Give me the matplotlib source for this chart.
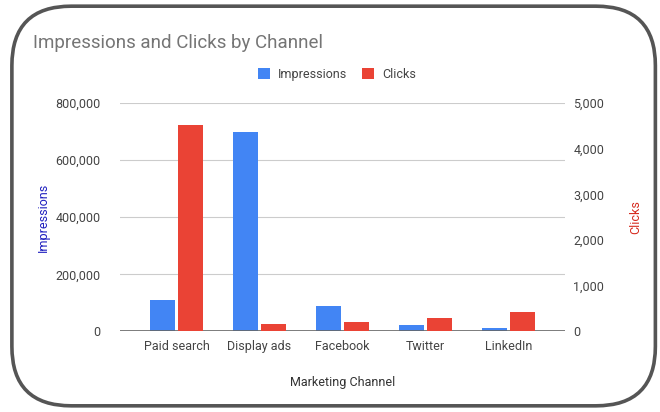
import numpy as np
import matplotlib.pyplot as plt
from matplotlib.patches import FancyBboxPatch
from matplotlib.ticker import FuncFormatter

plt.rcParams['font.family'] = ['Roboto', 'DejaVu Sans']

channels = ['Paid search', 'Display ads', 'Facebook', 'Twitter', 'LinkedIn']
impressions = [110000, 700000, 88000, 24000, 12000]
clicks = [4520, 170, 214, 288, 426]

BLUE = '#4285F4'
RED = '#EA4335'

fig = plt.figure(figsize=(6.6, 4.12), dpi=100)

# rounded frame around the whole chart (behind the axes)
frame = FancyBboxPatch((0.018, 0.015), 0.975, 0.97,
                       boxstyle='round,pad=0,rounding_size=0.09',
                       transform=fig.transFigure, facecolor='white',
                       edgecolor='#555555', linewidth=2.6,
                       mutation_aspect=660/412, zorder=-1)
fig.patches.append(frame)

ax = fig.add_axes([0.1818, 0.1954, 0.6742, 0.5546])
ax2 = ax.twinx()
ax.patch.set_alpha(0)
ax2.patch.set_alpha(0)

x = np.arange(len(channels))
w = 0.3
ax.bar(x - w/2 - 0.02, impressions, w, color=BLUE, label='Impressions', zorder=3)
ax2.bar(x + w/2 + 0.02, clicks, w, color=RED, label='Clicks', zorder=3)

ax.set_xlim(-0.68, 4.68)
ax.set_ylim(0, 800000)
ax2.set_ylim(0, 5000)
ax.set_yticks(np.arange(0, 800001, 200000))
ax2.set_yticks(np.arange(0, 5001, 1000))
fmt = FuncFormatter(lambda v, p: f'{int(v):,}')
ax.yaxis.set_major_formatter(fmt)
ax2.yaxis.set_major_formatter(fmt)

ax.grid(axis='y', color='#cccccc', linewidth=0.8, zorder=0)
for a in (ax, ax2):
    for s in a.spines.values():
        s.set_visible(False)
    a.tick_params(length=0, labelsize=9, colors='#444444')
ax.tick_params(axis='y', pad=14)
ax2.tick_params(axis='y', pad=6)
ax.axhline(0, color='#666666', linewidth=1.2, zorder=4)

ax.set_xticks(x)
ax.set_xticklabels(channels)
ax.tick_params(axis='x', pad=6)

ax.set_xlabel('Marketing Channel', fontsize=9, color='#333333', labelpad=17)
ax.set_ylabel('Impressions', fontsize=9, color='#1f1fbf', labelpad=4)
ax2.set_ylabel('Clicks', fontsize=9, color='#d62b1f', labelpad=18)

fig.text(0.05, 0.895, 'Impressions and Clicks by Channel', fontsize=13.5,
         color='#757575', ha='left', va='center')

h1, l1 = ax.get_legend_handles_labels()
h2, l2 = ax2.get_legend_handles_labels()
leg = fig.legend(h1 + h2, l1 + l2, loc='center', bbox_to_anchor=(0.51, 0.82),
                 ncol=2, frameon=False, fontsize=9, handlelength=1.0,
                 handleheight=1.0, columnspacing=1.2, handletextpad=0.6)
for t in leg.get_texts():
    t.set_color('#444444')

fig.savefig('out.png', dpi=100)
